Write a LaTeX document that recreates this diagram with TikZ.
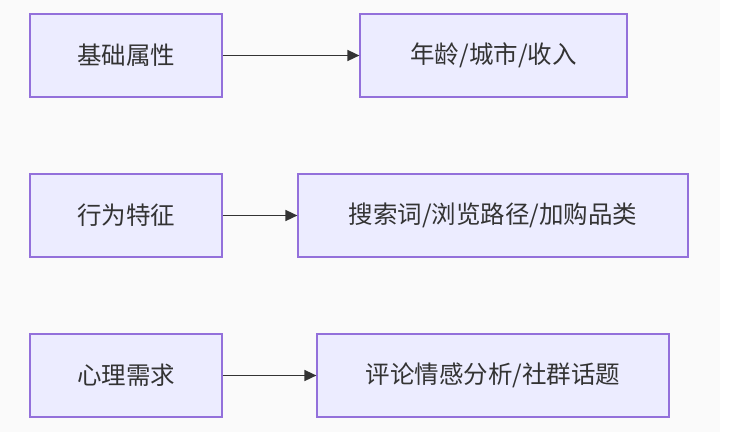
\documentclass[tikz,border=0pt]{standalone}
\usepackage{fontspec}
\setmainfont{Noto Sans CJK SC}
\usetikzlibrary{arrows.meta}
\definecolor{nodefill}{HTML}{ECECFF}
\definecolor{nodeline}{HTML}{9370DB}
\definecolor{txt}{HTML}{333333}
\definecolor{bg}{HTML}{FAFAFA}
\begin{document}
\begin{tikzpicture}[x=1pt,y=-1pt,
  box/.style={draw=nodeline,fill=nodefill,line width=1.2pt,text=txt,font=\fontsize{24.5}{28}\selectfont,inner sep=0pt},
  link/.style={draw=txt,line width=1.6pt,-{Triangle[length=12pt,width=11pt]}}]
\useasboundingbox (0,0) rectangle (733,432);
\fill[white] (0,0) rectangle (733,432);
\fill[bg] (0,0) rectangle (720,432);
\node[box,minimum width=192pt,minimum height=83pt] (a1) at (126,55.5) {基础属性};
\node[box,minimum width=267pt,minimum height=83pt] (b1) at (493.5,55.5) {年龄/城市/收入};
\node[box,minimum width=390pt,minimum height=83pt] (b2) at (493,215.5) {搜索词/浏览路径/加购品类};
\node[box,minimum width=192pt,minimum height=83pt] (a2) at (126,215.5) {行为特征};
\node[box,minimum width=192pt,minimum height=83pt] (a3) at (126,375.5) {心理需求};
\node[box,minimum width=352pt,minimum height=83pt] (b3) at (493,375.5) {评论情感分析/社群话题};
\draw[link] (a1) -- (b1);
\draw[link] (a2) -- (b2);
\draw[link] (a3) -- (b3);
\end{tikzpicture}
\end{document}
